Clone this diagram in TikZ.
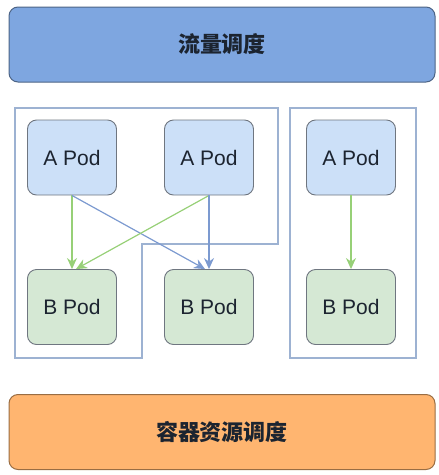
\documentclass[tikz,border=0pt]{standalone}
\usepackage{fontspec}
\setmainfont{Liberation Sans}
\newfontfamily\cjk{Noto Sans CJK SC}
\usetikzlibrary{arrows.meta,positioning}
\definecolor{barblue}{HTML}{7EA6E0}
\definecolor{barorange}{HTML}{FFB570}
\definecolor{podblue}{HTML}{CCE0F8}
\definecolor{podgreen}{HTML}{D5E8D4}
\definecolor{podline}{HTML}{6F7680}
\definecolor{grpline}{HTML}{9DB2D2}
\definecolor{flowgreen}{HTML}{97D077}
\definecolor{flowblue}{HTML}{7C9AD0}
\definecolor{ink}{HTML}{1C2430}

\begin{document}
\begin{tikzpicture}[x=1pt,y=-1pt, text=ink,
  bar/.style={draw=#1!60!black, line width=1pt, rounded corners=9pt, minimum width=426pt,
              minimum height=75pt, inner sep=0pt, font=\cjk\bfseries\fontsize{22pt}{24pt}\selectfont},
  pod/.style={draw=podline, line width=0.9pt, rounded corners=9pt, minimum width=89pt,
              minimum height=75pt, inner sep=0pt, font=\fontsize{21pt}{24pt}\selectfont},
  apod/.style={pod, fill=podblue},
  bpod/.style={pod, fill=podgreen},
  grp/.style={draw=grpline, line width=1.2pt},
  flow/.style={line width=1.2pt, -{Stealth[length=11pt,width=10pt]}}]
\useasboundingbox (0,0) rectangle (439,475);
% scheduling layers
\node[bar=barblue, fill=barblue]     (traffic) at (222,44.5)  {流量调度};
\node[bar=barorange, fill=barorange] (res)     at (222,432)   {容器资源调度};
% groups
\draw[grp] (15,108) -- (278,108) -- (278,244) -- (142,244) -- (142,358) -- (15,358) -- cycle;
\draw[grp] (290,108) rectangle (416,358);
% pods
\node[apod] (a1) at (72,157.5)  {A Pod};
\node[apod] (a2) at (209,157.5) {A Pod};
\node[apod] (a3) at (351,157.5) {A Pod};
\node[bpod] (b1) at (72,307)    {B Pod};
\node[bpod] (b2) at (209,307)   {B Pod};
\node[bpod] (b3) at (351,307)   {B Pod};
% calls
\draw[flow, draw=flowgreen] (a1.south) -- (b1.north);
\draw[flow, draw=flowblue]  (a1.south) -- ([xshift=-4pt]b2.north);
\draw[flow, draw=flowgreen] (a2.south) -- ([xshift=4pt]b1.north);
\draw[flow, draw=flowblue]  (a2.south) -- (b2.north);
\draw[flow, draw=flowgreen] (a3.south) -- (b3.north);
\end{tikzpicture}
\end{document}
